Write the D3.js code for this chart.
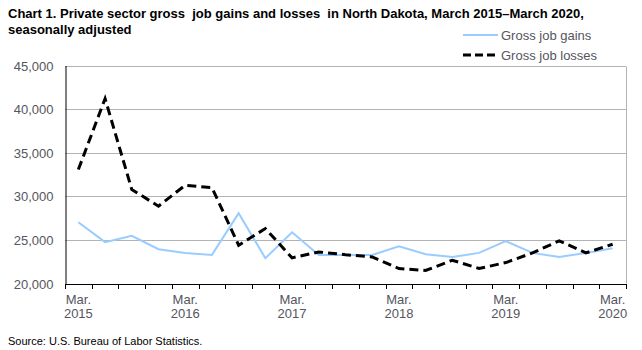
<!DOCTYPE html>
<html>
<head>
<meta charset="utf-8">
<script src="https://cdn.jsdelivr.net/npm/d3@7"></script>
<style>
  body { margin: 0; background: #fff; }
  text { font-family: "Liberation Sans", Arial, sans-serif; }
</style>
</head>
<body>
<svg width="642" height="350"></svg>
<script>
// quarterly data, Mar 2015 - Mar 2020
const quarters = d3.range(21).map(i => i)
const gains = [27030, 24740, 25460, 23930, 23510, 23280, 28060, 22900, 25880, 23280,
               23280, 23280, 24280, 23360, 23050, 23510, 24850, 23510, 23050, 23510, 24050]
const losses = [33070, 41200, 30780, 28870, 31270, 31000, 24390, 26300, 22940, 23620,
                23300, 23050, 21720, 21490, 22670, 21720, 22400, 23510, 24890, 23510, 24500]
const yTicks = [20000, 25000, 30000, 35000, 40000, 45000]
const yearLabels = ['2015', '2016', '2017', '2018', '2019', '2020']

const
    LEFT = 65,
    RIGHT = 626,
    TOP = 65.5,
    BOTTOM = 283.5

let svg = d3.select('svg')

let x = d3.scaleBand()
    .domain(quarters)
    .range([LEFT, RIGHT])

let y = d3.scaleLinear()
    .domain([20000, 45000])
    .range([BOTTOM, TOP])

// gridlines
svg.append('g')
    .selectAll('line')
    .data(yTicks.slice(1))
    .enter()
    .append('line')
        .attr('x1', LEFT)
        .attr('x2', RIGHT)
        .attr('y1', d => Math.round(y(d)) + 0.5)
        .attr('y2', d => Math.round(y(d)) + 0.5)
        .attr('stroke', '#b3b3b3')

// right border
svg.append('line')
    .attr('x1', RIGHT + 0.5).attr('x2', RIGHT + 0.5)
    .attr('y1', Math.round(y(45000)) + 0.5).attr('y2', BOTTOM)
    .attr('stroke', '#b3b3b3')

// y axis
let yAxis = d3.axisLeft(y)
    .tickValues(yTicks)
    .tickSize(0)
    .tickPadding(12)
    .tickFormat(d3.format(','))

let yg = svg.append('g')
    .attr('transform', `translate(${LEFT + 0.5}, 0)`)
    .call(yAxis)
yg.select('.domain').attr('stroke', '#000')
yg.selectAll('text')
    .attr('fill', '#555560')
    .style('font-size', '13px')
    .attr('dy', '0.35em')

// x axis: ticks at category boundaries
let bounds = quarters.map(d => x(d)).concat([RIGHT])
let xg = svg.append('g')
xg.append('line')
    .attr('x1', LEFT).attr('x2', RIGHT + 1)
    .attr('y1', Math.round(BOTTOM) + 0.5).attr('y2', Math.round(BOTTOM) + 0.5)
    .attr('stroke', '#000')
xg.selectAll('line.tick')
    .data(bounds)
    .enter()
    .append('line')
        .attr('class', 'tick')
        .attr('x1', d => Math.round(d) + 0.5)
        .attr('x2', d => Math.round(d) + 0.5)
        .attr('y1', Math.round(BOTTOM))
        .attr('y2', Math.round(BOTTOM) + 5)
        .attr('stroke', '#000')

let labelIdx = [0, 4, 8, 12, 16, 20]
let lbl = xg.selectAll('text.xl')
    .data(labelIdx)
    .enter()
    .append('text')
        .attr('class', 'xl')
        .attr('text-anchor', 'middle')
        .attr('fill', '#555560')
        .style('font-size', '13px')
        .attr('transform', d => `translate(${x(d) + x.bandwidth() / 2}, 0)`)
lbl.append('tspan').attr('x', 0).attr('y', 304).text('Mar.')
lbl.append('tspan').attr('x', 0).attr('y', 318).text((d, i) => yearLabels[i])

// lines
let line = (vals) => d3.line()
    .x((d, i) => x(i) + x.bandwidth() / 2)
    .y(d => y(d))(vals)

svg.append('path')
    .attr('d', line(gains))
    .attr('fill', 'none')
    .attr('stroke', '#99ccff')
    .attr('stroke-width', 2)

svg.append('path')
    .attr('d', line(losses))
    .attr('fill', 'none')
    .attr('stroke', '#000')
    .attr('stroke-width', 3)
    .attr('stroke-dasharray', '9,5')

// title
svg.append('text')
    .attr('x', 8).attr('y', 18)
    .style('font-size', '13px').style('font-weight', 'bold')
    .attr('xml:space', 'preserve')
    .text('Chart 1. Private sector gross  job gains and losses  in North Dakota, March 2015\u2013March 2020,')
svg.append('text')
    .attr('x', 8).attr('y', 34)
    .style('font-size', '13px').style('font-weight', 'bold')
    .text('seasonally adjusted')

// legend
let legend = svg.append('g')
legend.append('line')
    .attr('x1', 463).attr('x2', 498).attr('y1', 35).attr('y2', 35)
    .attr('stroke', '#99ccff').attr('stroke-width', 2)
legend.append('text')
    .attr('x', 501).attr('y', 39.5)
    .attr('fill', '#555560').style('font-size', '13px')
    .text('Gross job gains')
legend.append('line')
    .attr('x1', 463).attr('x2', 498).attr('y1', 55).attr('y2', 55)
    .attr('stroke', '#000').attr('stroke-width', 3)
    .attr('stroke-dasharray', '8,4')
legend.append('text')
    .attr('x', 501).attr('y', 59.5)
    .attr('fill', '#555560').style('font-size', '13px')
    .text('Gross job losses')

// source
svg.append('text')
    .attr('x', 8).attr('y', 345)
    .style('font-size', '11px')
    .text('Source: U.S. Bureau of Labor Statistics.')
</script>
</body>
</html>
